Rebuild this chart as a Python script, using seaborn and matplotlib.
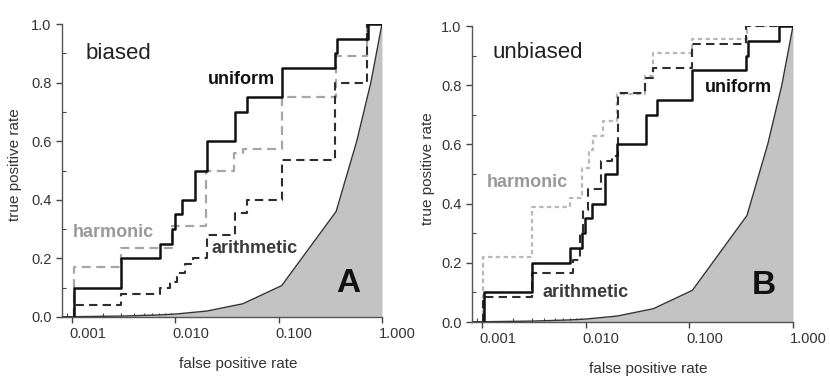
import matplotlib
matplotlib.use("Agg")
import matplotlib.pyplot as plt
import matplotlib.ticker as mticker
from matplotlib.transforms import ScaledTranslation
import seaborn as sns

# ROC step curves (false positive rate, true positive rate)
uniform_fpr = [0.00105, 0.003, 0.0071, 0.0092, 0.0099, 0.0115, 0.0155, 0.0202, 0.038, 0.049, 0.107, 0.35, 0.365, 0.73]
uniform_tpr = [0.10, 0.20, 0.25, 0.30, 0.35, 0.40, 0.50, 0.60, 0.70, 0.75, 0.85, 0.90, 0.95, 1.00]

# panel A: biased
harm_a_fpr = [0.00105, 0.003, 0.0092, 0.0198, 0.037, 0.045, 0.107, 0.36, 0.72]
harm_a_tpr = [0.17, 0.235, 0.31, 0.50, 0.56, 0.575, 0.75, 0.89, 1.00]
arith_a_fpr = [0.00105, 0.003, 0.0071, 0.0088, 0.0103, 0.0125, 0.0148, 0.0202, 0.038, 0.049, 0.107, 0.35, 0.72]
arith_a_tpr = [0.04, 0.08, 0.10, 0.12, 0.15, 0.18, 0.20, 0.28, 0.355, 0.40, 0.535, 0.80, 1.00]

# panel B: unbiased
harm_b_fpr = [0.00103, 0.003, 0.0071, 0.0092, 0.0108, 0.0118, 0.0148, 0.020, 0.037, 0.045, 0.107, 0.36]
harm_b_tpr = [0.22, 0.39, 0.42, 0.52, 0.58, 0.63, 0.68, 0.77, 0.83, 0.91, 0.955, 1.00]
arith_b_fpr = [0.00103, 0.003, 0.0075, 0.0088, 0.0095, 0.0105, 0.0140, 0.0178, 0.0206, 0.037, 0.045, 0.105, 0.35]
arith_b_tpr = [0.085, 0.167, 0.21, 0.30, 0.38, 0.45, 0.545, 0.56, 0.773, 0.824, 0.857, 0.94, 1.00]

# random-classifier baseline (shaded)
base_fpr = [0.0008, 0.00105, 0.003, 0.0071, 0.0102, 0.0202, 0.045, 0.107, 0.36, 0.57, 0.78, 1.0]
base_tpr = [0.0008, 0.00105, 0.003, 0.0071, 0.0102, 0.0202, 0.045, 0.107, 0.36, 0.60, 0.80, 1.0]

xtick_vals = [0.001, 0.01, 0.1, 1.0]
xtick_labels = ["0.001", "0.010", "0.100", "1.000"]
ytick_vals = [0.0, 0.2, 0.4, 0.6, 0.8, 1.0]
ytick_labels = ["0.0", "0.2", "0.4", "0.6", "0.8", "1.0"]

sns.set_style("ticks")
plt.rcParams["font.family"] = ["Liberation Sans", "DejaVu Sans"]

fig = plt.figure(figsize=(8.3, 3.76), dpi=100)
axA = fig.add_axes([0.0747, 0.157, 0.3855, 0.779])
axB = fig.add_axes([0.5687, 0.1436, 0.3867, 0.787])


def step_curve(ax, fpr, tpr, color, ls, lw):
    xs = [fpr[0]] + fpr + [1.0]
    ys = [0.0] + tpr + [1.0]
    sns.lineplot(x=xs, y=ys, ax=ax, color=color, linestyle=ls, linewidth=lw,
                 drawstyle="steps-post", estimator=None, sort=False)


def dress(ax, xlab_y, xlab_x, ylab_x):
    ax.fill_between(base_fpr, base_tpr, 0, color="#c3c3c3", linewidth=0, zorder=1)
    sns.lineplot(x=base_fpr, y=base_tpr, ax=ax, color="#333333", linewidth=1.0,
                 estimator=None, sort=False)
    ax.set_xscale("log")
    ax.set_xlim(0.0008, 1.0)
    ax.set_ylim(0, 1.0)
    ax.set_xticks(xtick_vals)
    ax.set_xticklabels(xtick_labels)
    ax.xaxis.set_minor_locator(mticker.LogLocator(base=10, subs=range(2, 10)))
    ax.xaxis.set_minor_formatter(mticker.NullFormatter())
    ax.set_yticks(ytick_vals)
    ax.set_yticklabels(ytick_labels)
    ax.yaxis.set_minor_locator(mticker.MultipleLocator(0.1))
    ax.tick_params(axis="both", which="major", direction="out", length=4, width=1,
                   color="#444444", labelsize=10.5, labelcolor="#333333")
    ax.tick_params(axis="both", which="minor", direction="in", length=3, width=0.8,
                   color="#444444")
    for lab in ax.get_xticklabels():
        lab.set_horizontalalignment("left")
        lab.set_transform(lab.get_transform() + ScaledTranslation(-0.03, 0, fig.dpi_scale_trans))
    for side in ["top", "right"]:
        ax.spines[side].set_visible(False)
    for side in ["left", "bottom"]:
        ax.spines[side].set_color("#555555")
        ax.spines[side].set_linewidth(1.0)
    ax.set_xlabel("false positive rate", fontsize=11, color="#333333")
    ax.set_ylabel("true positive rate", fontsize=11, color="#333333")
    ax.xaxis.set_label_coords(xlab_x, xlab_y)
    ax.yaxis.set_label_coords(ylab_x, 0.52)


# panel A
dress(axA, -0.135, 0.55, -0.125)
step_curve(axA, harm_a_fpr, harm_a_tpr, "#a6a6a6", (0, (4, 2.5)), 1.6)
step_curve(axA, arith_a_fpr, arith_a_tpr, "#2e2e2e", (0, (4, 2.5)), 1.5)
step_curve(axA, uniform_fpr, uniform_tpr, "#111111", "-", 1.8)
axA.text(0.00134, 0.90, "biased", fontsize=16, color="#222222", va="center")
axA.text(0.0208, 0.81, "uniform", fontsize=13, fontweight="bold", color="#111111", va="center")
axA.text(0.00102, 0.287, "harmonic", fontsize=13, fontweight="bold", color="#999999", va="center")
axA.text(0.0226, 0.235, "arithmetic", fontsize=13, fontweight="bold", color="#3a3a3a", va="center")
axA.text(0.36, 0.113, "A", fontsize=24, fontweight="bold", color="#111111", va="center")

# panel B
dress(axB, -0.135, 0.548, -0.115)
step_curve(axB, harm_b_fpr, harm_b_tpr, "#b8b8b8", (0, (2, 1.5)), 1.6)
step_curve(axB, arith_b_fpr, arith_b_tpr, "#2e2e2e", (0, (4, 2.5)), 1.5)
step_curve(axB, uniform_fpr, uniform_tpr, "#111111", "-", 1.8)
axB.text(0.00125, 0.912, "unbiased", fontsize=16, color="#222222", va="center")
axB.text(0.141, 0.794, "uniform", fontsize=13, fontweight="bold", color="#111111", va="center")
axB.text(0.00112, 0.47, "harmonic", fontsize=13, fontweight="bold", color="#999999", va="center")
axB.text(0.0038, 0.10, "arithmetic", fontsize=13, fontweight="bold", color="#3a3a3a", va="center")
axB.text(0.40, 0.125, "B", fontsize=24, fontweight="bold", color="#111111", va="center")

fig.savefig("out.png", dpi=100)
